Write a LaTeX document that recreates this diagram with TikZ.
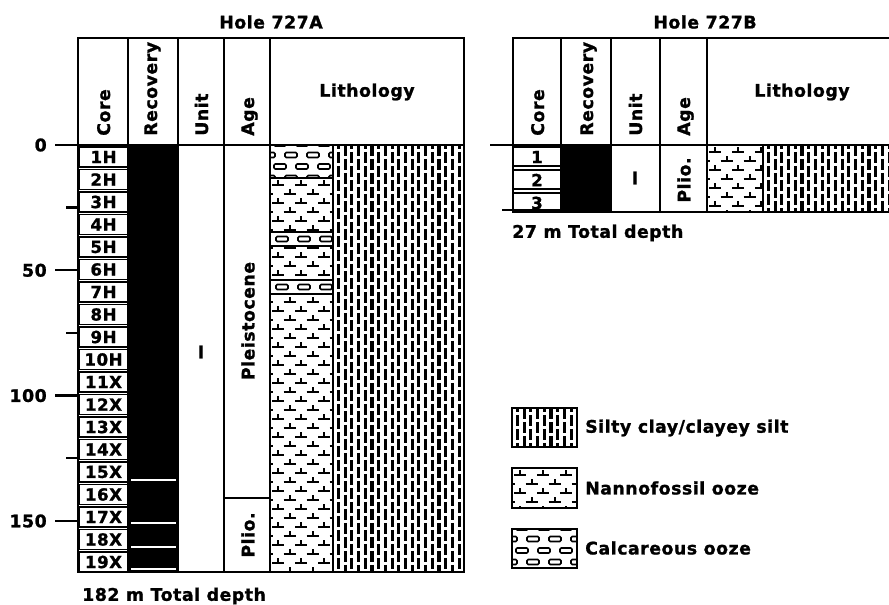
\documentclass[tikz,border=0pt]{standalone}
\usepackage{fontspec}
\setmainfont{DejaVu Sans}[LetterSpace=3,BoldFeatures={FakeBold=1.2}]
\newcommand\siltfill[4]{%
 \begin{scope}
 \clip (#1,#2) rectangle (#3,#4);
 \pgfmathtruncatemacro\ncols{((#3)-(#1))/6.7+1}
 \pgfmathtruncatemacro\nrows{((#4)-(#2))/14+2}
 \foreach \i in {0,...,\ncols}{
  \foreach \j in {0,...,\nrows}{
   \pgfmathsetmacro\xx{#1+5.5+\i*6.7}
   \pgfmathsetmacro\yy{#2-7+\j*14+mod(\i,2)*7}
   \draw[silt] (\xx,\yy) -- ++(0,11);
  }}
 \end{scope}}
\newcommand\nannofill[4]{%
 \begin{scope}
 \clip (#1,#2) rectangle (#3,#4);
 \pgfmathtruncatemacro\ncols{((#3)-(#1))/23+1}
 \pgfmathtruncatemacro\nrows{((#4)-(#2))/9+1}
 \foreach \i in {-1,...,\ncols}{
  \foreach \j in {0,...,\nrows}{
   \pgfmathsetmacro\xx{#1+8+\i*23+mod(\j,2)*11.5}
   \pgfmathsetmacro\yy{#2+7+\j*9}
   \draw[nan] (\xx-6,\yy) -- (\xx+6,\yy) (\xx,\yy) -- (\xx,\yy-5);
  }}
 \end{scope}}
\newcommand\calcfill[6]{% x0 y0 x1 y1 yfirst nrows
 \begin{scope}
 \clip (#1,#2) rectangle (#3,#4);
 \foreach \j in {0,...,#6}{
  \foreach \i in {-1,...,4}{
   \pgfmathsetmacro\xx{#1+4+\i*22+mod(\j,2)*11}
   \pgfmathsetmacro\yy{#5+\j*11.5}
   \draw[brick] (\xx,\yy) rectangle ++(12,5);
  }}
 \end{scope}}
\newcommand\calcband[4]{% x0 y0 x1 y1
 \fill[white] (#1,#2) rectangle (#3,#4);
 \draw[band] (#1,#2) -- (#3,#2) (#1,#4) -- (#3,#4);
 \begin{scope}
 \clip (#1,#2) rectangle (#3,#4);
 \foreach \i in {-1,...,4}{
   \pgfmathsetmacro\xx{#1+6+\i*22}
   \draw[brick] (\xx,#2+4.5) rectangle ++(12,5);
 }
 \end{scope}}
\begin{document}
\begin{tikzpicture}[x=0.75pt,y=-0.75pt,
  font=\fontsize{13}{15}\selectfont\bfseries,
  frame/.style={line width=1.7pt},
  thinl/.style={line width=1.2pt},
  silt/.style={line width=2.3pt},
  nan/.style={line width=1.5pt},
  band/.style={line width=2pt},
  brick/.style={line width=1.2pt, rounded corners=1pt},
  lbl/.style={inner sep=0pt},
  rot/.style={rotate=90, anchor=base west, inner sep=0pt},
  corelbl/.style={font=\fontsize{12.5}{14}\selectfont\bfseries, inner sep=0pt}]
\useasboundingbox (0,0) rectangle (889,605);
\fill[white] (0,0) rectangle (889,605);

% ================= HOLE 727A =================
\node[lbl] (titleA) at (271,22) {Hole 727A};
% patterns
\siltfill{333}{145}{464}{572}
\nannofill{270}{178}{333}{572}
\calcfill{270}{145}{333}{178}{141}{3}
\draw[thinl] (270,178) -- (333,178);
\calcband{270}{232}{333}{246}
\calcband{270}{280}{333}{294}
\draw[thinl] (333,145) -- (333,572);
% recovery
\fill[black] (128,145) rectangle (178,572);
\foreach \yy in {480,523,547,569}
  \draw[white, line width=0.8pt] (131,\yy) -- (176,\yy);
% core boxes
\foreach \k [count=\n from 0] in {1H,2H,3H,4H,5H,6H,7H,8H,9H,10H,11X,12X,13X,14X,15X,16X,17X,18X,19X}{
  \draw[thinl] (79,147+\n*22.5) rectangle (128,167+\n*22.5);
  \node[corelbl] (cA\n) at (103.5,157+\n*22.5) {\k};
}
% frame
\draw[frame] (78,38) rectangle (464,572);
\draw[frame] (55,145) -- (464,145);
\foreach \xx in {128,178,224,270} \draw[frame] (\xx,38) -- (\xx,572);
\draw[frame] (224,498) -- (270,498);
% depth scale
\foreach \yy/\lab in {145/0,270.3/50,395.6/100,521/150}{
  \draw[frame] (55,\yy) -- (78,\yy);
  \node[lbl, anchor=east] (d\lab) at (47,\yy) {\lab};
}
\foreach \yy in {207.6,333,458.3} \draw[frame] (66,\yy) -- (78,\yy);
% headers
\node[rot] (hcA) at (110,136) {Core};
\node[rot] (hrA) at (157,136) {Recovery};
\node[rot] (huA) at (208,136) {Unit};
\node[rot] (haA) at (254,136) {Age};
\node[lbl] (hlA) at (367,92) {Lithology};
\node[lbl] (uA) at (201,352) {I};
\node[lbl, rotate=90] (pleis) at (248,321) {Pleistocene};
\node[lbl, rotate=90] (plioA) at (248,535) {Plio.};
\node[lbl, anchor=west] (totA) at (82,596) {182 m Total depth};

% ================= HOLE 727B =================
\node[lbl] (titleB) at (705,22) {Hole 727B};
\siltfill{763}{145}{895}{212}
\nannofill{707}{145}{763}{212}
\draw[thinl] (763,145) -- (763,212);
\fill[black] (561,145) rectangle (611,212);
\foreach \k [count=\n from 0] in {1,2,3}{
  \node[corelbl] (cB\n) at (537,157+\n*23) {\k};
}
\draw[thinl] (513,147) rectangle (561,166);
\draw[thinl] (513,170) rectangle (561,189);
\draw[thinl] (513,193) rectangle (561,210);
\draw[frame] (513,38) rectangle (900,212);
\draw[frame] (490,145) -- (900,145);
\foreach \xx in {561,611,660,707} \draw[frame] (\xx,38) -- (\xx,212);
\draw[frame] (502,210) -- (513,210);
\node[rot] (hcB) at (544,136) {Core};
\node[rot] (hrB) at (593,136) {Recovery};
\node[rot] (huB) at (642,136) {Unit};
\node[rot] (haB) at (690,136) {Age};
\node[lbl] (hlB) at (802,92) {Lithology};
\node[lbl] (uB) at (635,178) {I};
\node[lbl, rotate=90] (plioB) at (684,180) {Plio.};
\node[lbl, anchor=west] (totB) at (512,233) {27 m Total depth};

% ================= LEGEND =================
\siltfill{512}{408}{577}{447}
\nannofill{512}{468}{577}{508}
\calcfill{512}{529}{577}{568}{525}{3}
\draw[frame] (512,408) rectangle (577,447);
\draw[frame] (512,468) rectangle (577,508);
\draw[frame] (512,529) rectangle (577,568);
\node[lbl, anchor=west] (lg1) at (585,428) {Silty clay/clayey silt};
\node[lbl, anchor=west] (lg2) at (585,488) {Nannofossil ooze};
\node[lbl, anchor=west] (lg3) at (585,548) {Calcareous ooze};
\end{tikzpicture}
\end{document}
